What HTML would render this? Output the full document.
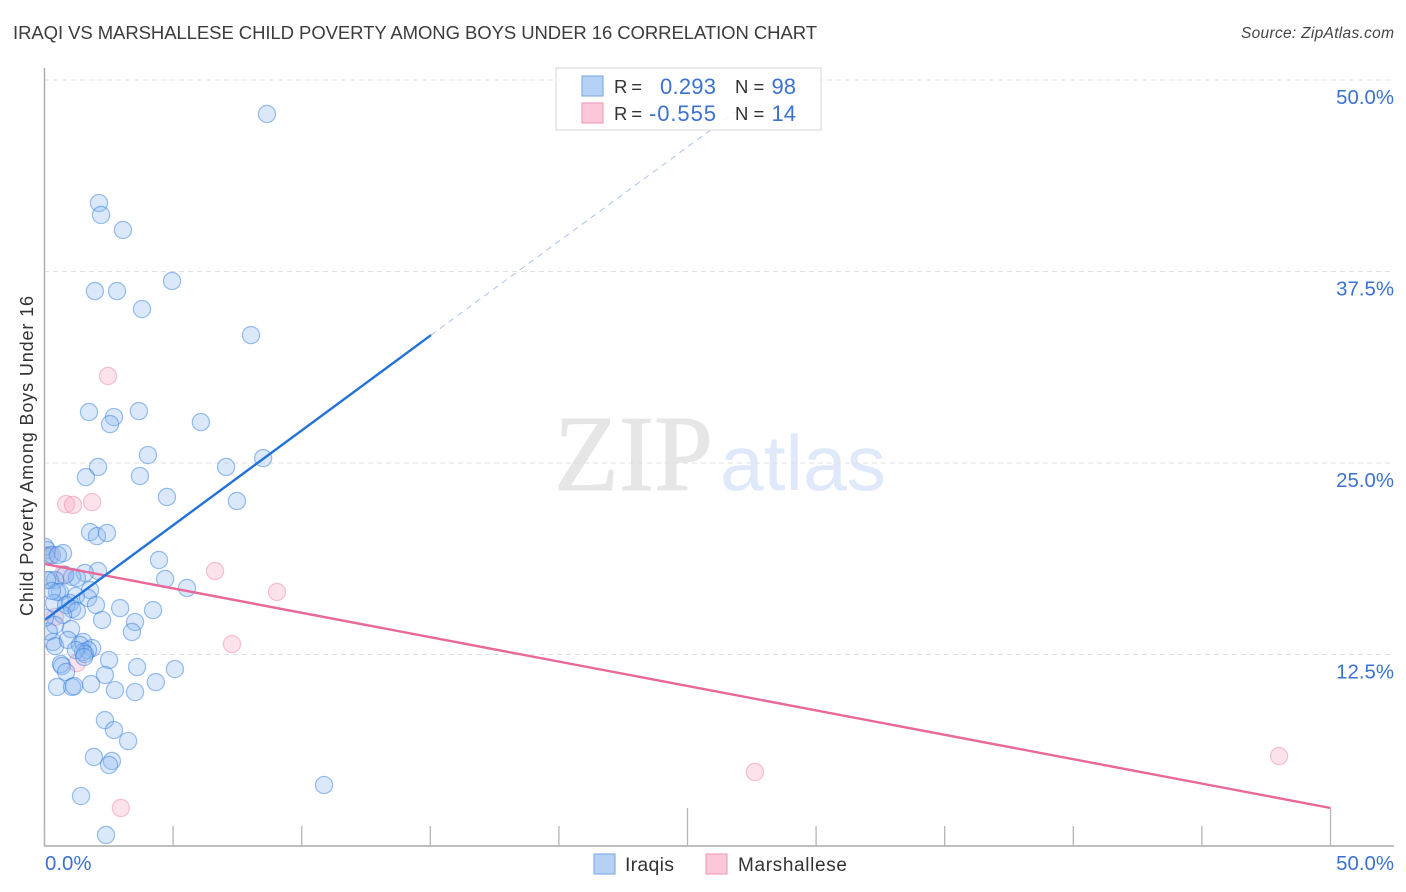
<!DOCTYPE html>
<html lang="en">
<head>
<meta charset="utf-8">
<title>Iraqi vs Marshallese Child Poverty Among Boys Under 16 Correlation Chart</title>
<style>
html,body{margin:0;padding:0;background:#fff;width:1406px;height:892px;overflow:hidden}
svg{display:block}
text{font-family:"Liberation Sans",sans-serif}
</style>
</head>
<body>
<svg id="chart" xmlns="http://www.w3.org/2000/svg" width="1406" height="892" viewBox="0 0 1406 892">
  <defs>
    <clipPath id="plot-clip"><rect x="45" y="60" width="1350" height="786"></rect></clipPath>
  </defs>
  <text x="13" y="39" font-size="18.5" fill="#3c3c3c" textLength="804" lengthAdjust="spacing">IRAQI VS MARSHALLESE CHILD POVERTY AMONG BOYS UNDER 16 CORRELATION CHART</text>
  <text x="1394" y="38" font-size="15.5" font-style="italic" fill="#444" text-anchor="end" textLength="153" lengthAdjust="spacing">Source: ZipAtlas.com</text>

  <g>
    <text x="554" y="490" style="font-family:'Liberation Serif',serif" font-size="108" fill="#e6e6e6" stroke="#e6e6e6" stroke-width="1" textLength="159" lengthAdjust="spacingAndGlyphs">ZIP</text>
    <text x="720" y="490" font-size="78" fill="#dfe9f9" textLength="166" lengthAdjust="spacingAndGlyphs">atlas</text>
  </g>

  <g id="grid"></g>
  <g id="ylabels"></g>

  <text transform="translate(33,456) rotate(-90)" font-size="18" fill="#333" text-anchor="middle" textLength="320" lengthAdjust="spacing">Child Poverty Among Boys Under 16</text>

  <g id="points" clip-path="url(#plot-clip)"></g>
  <g id="lines"></g>

  <g id="axes">
    <line x1="44.5" y1="68" x2="44.5" y2="846" stroke="#aaa" stroke-width="1.4"></line>
    <line x1="44" y1="846" x2="1394" y2="846" stroke="#aaa" stroke-width="1.4"></line>
  </g>
  <g id="xticks"></g>
  <text x="45" y="870" font-size="20.4" fill="#3b72d1">0.0%</text>
  <text x="1394" y="870" font-size="20.4" fill="#3b72d1" text-anchor="end">50.0%</text>

  <g>
    <rect x="556" y="68" width="265" height="62" fill="#fff" fill-opacity="0.8" stroke="#ddd" stroke-width="1.2"></rect>
    <rect x="582" y="76" width="21" height="20" fill="#b5d1f5" stroke="#86aee6" stroke-width="1.2"></rect>
    <rect x="582" y="103" width="21" height="20" fill="#fcc8d9" stroke="#f0a0bc" stroke-width="1.2"></rect>
    <text x="614" y="93" font-size="18.5" fill="#333" textLength="28" lengthAdjust="spacing">R =</text>
    <text x="660" y="94" font-size="22" fill="#3b72d1" textLength="56" lengthAdjust="spacing">0.293</text>
    <text x="735" y="93" font-size="18.5" fill="#333">N =</text>
    <text x="796" y="94" font-size="22" fill="#3b72d1" text-anchor="end">98</text>
    <text x="614" y="120" font-size="18.5" fill="#333" textLength="28" lengthAdjust="spacing">R =</text>
    <text x="649" y="121" font-size="22" fill="#3b72d1" textLength="67" lengthAdjust="spacing">-0.555</text>
    <text x="735" y="120" font-size="18.5" fill="#333">N =</text>
    <text x="796" y="121" font-size="22" fill="#3b72d1" text-anchor="end">14</text>
  </g>

  <g>
    <g>
      <rect x="594" y="854" width="21" height="20" fill="#b5d1f5" stroke="#86aee6" stroke-width="1.2"></rect>
      <text x="625" y="871" font-size="19.5" fill="#333" textLength="49" lengthAdjust="spacing">Iraqis</text>
    </g>
    <g>
      <rect x="706" y="854" width="21" height="20" fill="#fcc8d9" stroke="#f0a0bc" stroke-width="1.2"></rect>
      <text x="738" y="871" font-size="19" fill="#333" textLength="109" lengthAdjust="spacing">Marshallese</text>
    </g>
  </g>
</svg>
<script>
const iraqisX = [8.65,2.12,2.20,3.05,4.96,1.96,2.82,3.79,8.03,3.67,1.73,2.70,2.55,6.08,4.02,8.50,2.08,7.06,1.61,3.71,4.76,7.48,1.77,2.04,2.43,4.45,0.02,0.10,0.06,0.29,0.72,0.52,4.69,5.54,2.08,1.57,1.07,1.26,0.80,0.21,0.41,1.77,1.22,1.69,0.60,0.49,0.37,2.00,0.99,0.84,1.07,1.26,0.72,2.94,4.22,2.24,3.52,3.40,0.41,1.03,0.33,0.41,0.91,1.50,1.38,1.85,1.69,1.50,1.57,1.22,2.51,1.54,0.64,0.68,0.84,3.60,5.07,2.35,4.33,1.81,2.74,3.52,0.49,1.07,1.15,2.35,2.70,3.25,1.92,2.62,2.51,1.42,10.87,2.39,0.10,0.29,0.17,0.02];
const iraqisY = [47.78,41.97,41.19,40.21,36.88,36.22,36.22,35.05,33.35,28.39,28.33,28.00,27.54,27.67,25.52,25.32,24.74,24.74,24.08,24.15,22.78,22.52,20.49,20.23,20.43,18.67,19.52,19.32,18.93,18.99,19.12,18.99,17.43,16.84,17.95,17.82,17.56,17.49,17.69,17.36,17.36,16.71,16.32,16.19,16.58,16.58,15.86,15.73,15.86,15.73,15.47,15.34,15.08,15.53,15.40,14.75,14.62,13.97,14.42,14.16,13.32,13.05,13.45,13.32,13.12,12.92,12.79,12.66,12.53,12.79,12.14,12.34,11.88,11.75,11.36,11.68,11.55,11.16,10.70,10.57,10.18,10.05,10.38,10.38,10.44,8.22,7.57,6.85,5.81,5.55,5.29,3.26,3.98,0.72,17.36,16.65,14.00,14.90];
const marshalleseX = [2.47,0.84,1.11,1.85,6.63,9.04,7.29,27.62,48.00,2.97,0.21,0.72,0.41,1.26];
const marshalleseY = [30.68,22.32,22.26,22.45,17.95,16.58,13.18,4.83,5.87,2.48,18.99,17.75,14.95,11.94];
const iraqisTrendX = [0,15.03];
const iraqisTrendY = [14.75,33.35];
const iraqisProjectionX = [15.03,26.9];
const iraqisProjectionY = [33.35,47.97];
const marshalleseTrendX = [0,50];
const marshalleseTrendY = [18.41,2.48];
const yTicks = [12.5,25,37.5,50];
const yTickLabels = ['12.5%','25.0%','37.5%','50.0%'];
const xTicks = [0,5,10,15,20,25,30,35,40,45,50];
const xMajorTicks = [25,50];

const NS = 'http://www.w3.org/2000/svg';
function xScale(v){ return 44.5 + v * 25.72; }
function yScale(v){ return 846 - v * 15.32; }

const gridGroup = document.getElementById('grid');
const yLabelGroup = document.getElementById('ylabels');
yTicks.forEach(function(t, i){
  const g = document.createElementNS(NS, 'line');
  
  
  g.setAttribute('x1', 44);
  g.setAttribute('x2', 1394);
  g.setAttribute('y1', yScale(t));
  g.setAttribute('y2', yScale(t));
  g.setAttribute('stroke', '#e0e0e0');
  g.setAttribute('stroke-width', '1');
  g.setAttribute('stroke-dasharray', '5 4');
  gridGroup.appendChild(g);
  const l = document.createElementNS(NS, 'text');
  
  
  l.setAttribute('x', 1394);
  l.setAttribute('y', yScale(t) + 24);
  l.setAttribute('font-size', '20.4');
  l.setAttribute('fill', '#3b72d1');
  l.setAttribute('text-anchor', 'end');
  l.textContent = yTickLabels[i];
  yLabelGroup.appendChild(l);
});

const xTickGroup = document.getElementById('xticks');
xTicks.forEach(function(t){
  const major = xMajorTicks.indexOf(t) >= 0;
  const k = document.createElementNS(NS, 'line');
  
  
  k.setAttribute('x1', xScale(t));
  k.setAttribute('x2', xScale(t));
  k.setAttribute('y1', major ? 808 : 826);
  k.setAttribute('y2', 846);
  k.setAttribute('stroke', '#b5b5b5');
  k.setAttribute('stroke-width', '1.3');
  xTickGroup.appendChild(k);
});

const pointGroup = document.getElementById('points');
function drawPoint(x, y, fill, stroke, name){
  const c = document.createElementNS(NS, 'circle');
  
  
  c.setAttribute('cx', xScale(x));
  c.setAttribute('cy', yScale(y));
  c.setAttribute('r', '8.6');
  c.setAttribute('fill', fill);
  c.setAttribute('stroke', stroke);
  c.setAttribute('stroke-width', '1.2');
  pointGroup.appendChild(c);
}
marshalleseX.forEach(function(x, i){
  drawPoint(x, marshalleseY[i], 'rgba(248,175,198,0.36)', 'rgba(238,140,175,0.5)', 'marshallese-point');
});
iraqisX.forEach(function(x, i){
  drawPoint(x, iraqisY[i], 'rgba(140,185,240,0.32)', 'rgba(50,125,220,0.48)', 'iraqis-point');
});

const lineGroup = document.getElementById('lines');
function drawLine(xs, ys, color, width, dash, name){
  const p = document.createElementNS(NS, 'line');
  
  
  p.setAttribute('x1', xScale(xs[0]));
  p.setAttribute('y1', yScale(ys[0]));
  p.setAttribute('x2', xScale(xs[1]));
  p.setAttribute('y2', yScale(ys[1]));
  p.setAttribute('stroke', color);
  p.setAttribute('stroke-width', width);
  if (dash) p.setAttribute('stroke-dasharray', dash);
  lineGroup.appendChild(p);
}
drawLine(iraqisProjectionX, iraqisProjectionY, '#a9c4ea', 1, '6 5', 'iraqis-trend-projection');
drawLine(marshalleseTrendX, marshalleseTrendY, '#e8689a', 2.4, null, 'marshallese-trend-line');
drawLine(iraqisTrendX, iraqisTrendY, '#2272d8', 2.4, null, 'iraqis-trend-line');
</script>
</body>
</html>
